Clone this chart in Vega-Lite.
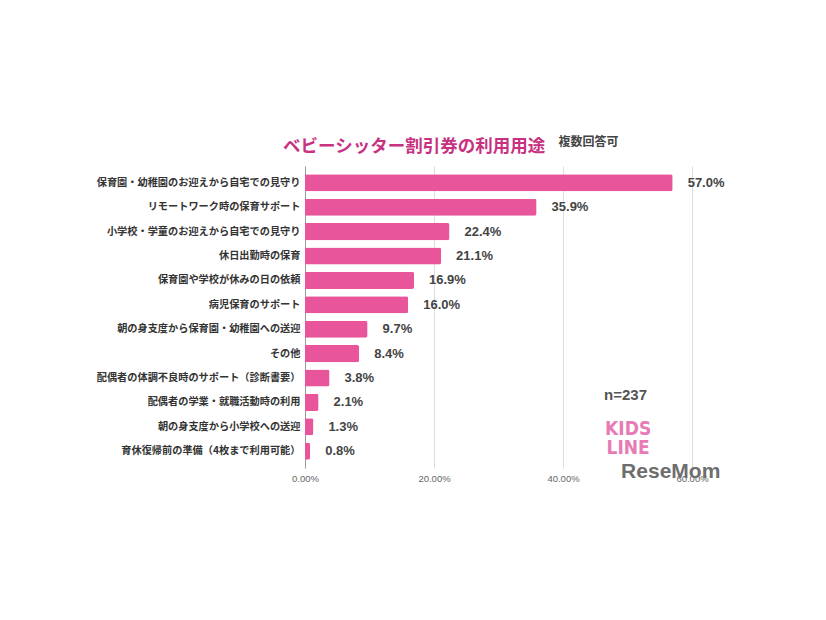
{
  "$schema": "https://vega.github.io/schema/vega-lite/v6.json",
  "width": 387,
  "height": 302,
  "autosize": {"type": "none"},
  "padding": {"left": 305, "top": 166, "right": 134, "bottom": 152},
  "background": "white",
  "title": {
    "text": "ベビーシッター割引券の利用用途",
    "anchor": "start",
    "frame": "group",
    "dx": -22,
    "offset": -20,
    "fontSize": 17.5,
    "font": "Noto Sans CJK JP",
    "fontWeight": "bold",
    "color": "#c8317f"
  },
  "config": {"view": {"stroke": null}},
  "datasets": {
    "bars": [
      {"item": "保育園・幼稚園のお迎えから自宅での見守り", "value": 0.570},
      {"item": "リモートワーク時の保育サポート", "value": 0.359},
      {"item": "小学校・学童のお迎えから自宅での見守り", "value": 0.224},
      {"item": "休日出勤時の保育", "value": 0.211},
      {"item": "保育園や学校が休みの日の依頼", "value": 0.169},
      {"item": "病児保育のサポート", "value": 0.160},
      {"item": "朝の身支度から保育園・幼稚園への送迎", "value": 0.097},
      {"item": "その他", "value": 0.084},
      {"item": "配偶者の体調不良時のサポート（診断書要）", "value": 0.038},
      {"item": "配偶者の学業・就職活動時の利用", "value": 0.021},
      {"item": "朝の身支度から小学校への送迎", "value": 0.013},
      {"item": "育休復帰前の準備（4枚まで利用可能）", "value": 0.008}
    ],
    "notes": [
      {"item": "配偶者の学業・就職活動時の利用", "value": 0.497, "label": "n=237"}
    ],
    "logo1": [
      {"item": "育休復帰前の準備（4枚まで利用可能）", "value": 0.501, "label": "KIDS\nLINE"}
    ],
    "logo2": [
      {"item": "育休復帰前の準備（4枚まで利用可能）", "value": 0.567, "label": "ReseMom"}
    ]
  },
  "layer": [
    {
      "data": {"name": "bars"},
      "mark": {"type": "bar", "color": "#e8559a", "cornerRadiusEnd": 2},
      "encoding": {
        "y": {
          "field": "item",
          "type": "nominal",
          "sort": null,
          "scale": {"paddingInner": 0.3, "paddingOuter": 0.34},
          "axis": {
            "title": "複数回答可",
            "titleAngle": 0,
            "titleX": 253,
            "titleY": -25,
            "titleAlign": "left",
            "titleBaseline": "middle",
            "titleFont": "Noto Sans CJK JP",
            "titleFontSize": 12,
            "titleFontWeight": "bold",
            "titleColor": "#444444",
            "ticks": false,
            "domain": true,
            "domainColor": "#9a9a9a",
            "labelPadding": 5,
            "labelFont": "Noto Sans CJK JP",
            "labelFontSize": 10.2,
            "labelFontWeight": "bold",
            "labelColor": "#333333",
            "labelLimit": 400
          }
        },
        "x": {
          "field": "value",
          "type": "quantitative",
          "scale": {"domain": [0, 0.6], "nice": false},
          "axis": {
            "title": null,
            "values": [0, 0.2, 0.4, 0.6],
            "format": ".2%",
            "grid": true,
            "gridColor": "#dddddd",
            "domain": false,
            "ticks": false,
            "labelFlush": false,
            "labelPadding": 5,
            "labelFont": "Liberation Sans",
            "labelFontSize": 9.5,
            "labelColor": "#666666"
          }
        }
      }
    },
    {
      "data": {"name": "bars"},
      "mark": {"type": "text", "align": "left", "baseline": "middle", "dx": 15, "font": "Liberation Sans", "fontSize": 13, "fontWeight": "bold", "color": "#444444"},
      "encoding": {
        "y": {"field": "item", "type": "nominal", "sort": null},
        "x": {"field": "value", "type": "quantitative"},
        "text": {"field": "value", "type": "quantitative", "format": ".1%"}
      }
    },
    {
      "data": {"name": "notes"},
      "mark": {"type": "text", "align": "center", "baseline": "middle", "dy": -7, "font": "Liberation Sans", "fontSize": 15, "fontWeight": "bold", "color": "#555555"},
      "encoding": {
        "y": {"field": "item", "type": "nominal", "sort": null},
        "x": {"field": "value", "type": "quantitative"},
        "text": {"field": "label"}
      }
    },
    {
      "data": {"name": "logo1"},
      "mark": {"type": "text", "align": "center", "baseline": "top", "dy": -31, "lineBreak": "\n", "lineHeight": 19, "font": "DejaVu Sans Condensed", "fontSize": 19, "fontWeight": "bold", "color": "#e77bb3"},
      "encoding": {
        "y": {"field": "item", "type": "nominal", "sort": null},
        "x": {"field": "value", "type": "quantitative"},
        "text": {"field": "label"}
      }
    },
    {
      "data": {"name": "logo2"},
      "mark": {"type": "text", "align": "center", "baseline": "middle", "dy": 21, "font": "Liberation Sans", "fontSize": 21, "fontWeight": "bold", "color": "#6e6e6e"},
      "encoding": {
        "y": {"field": "item", "type": "nominal", "sort": null},
        "x": {"field": "value", "type": "quantitative"},
        "text": {"field": "label"}
      }
    }
  ]
}
